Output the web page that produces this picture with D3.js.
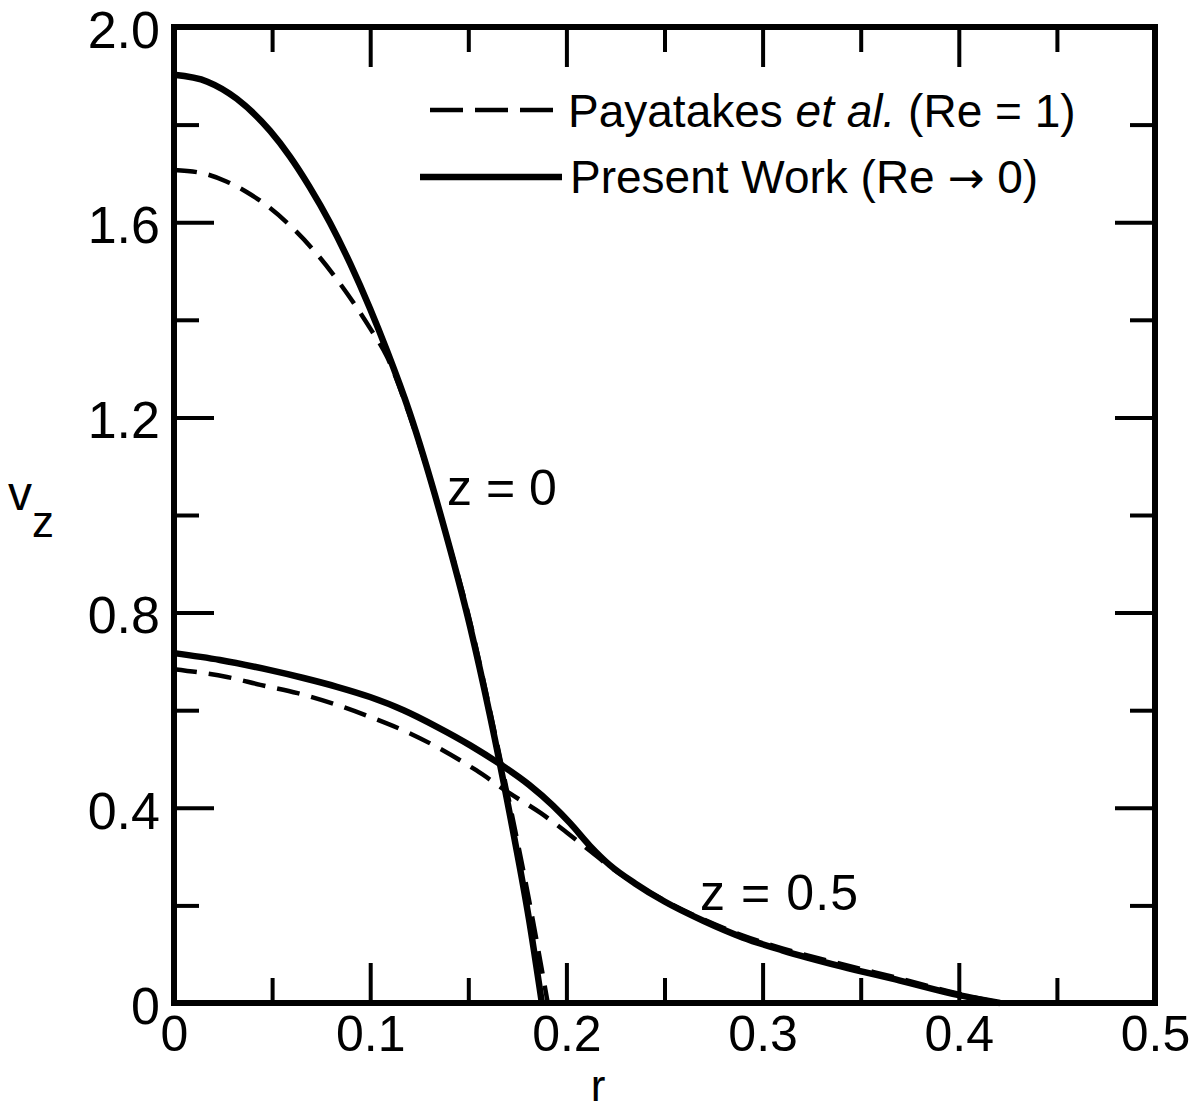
<!DOCTYPE html>
<html>
<head>
<meta charset="utf-8">
<script src="https://cdn.jsdelivr.net/npm/d3@7"></script>
<style>
  html, body { margin: 0; padding: 0; background: #fff; }
  svg { display: block; }
  text { font-family: "Liberation Sans", Arial, sans-serif; fill: #000; }
</style>
</head>
<body>
<svg id="chart" width="1199" height="1111"></svg>
<script>
// ---------- data ----------
const xMajorTicks = [0, 0.1, 0.2, 0.3, 0.4, 0.5];
const xMinorTicks = [0.05, 0.15, 0.25, 0.35, 0.45];
const yMajorTicks = [0, 0.4, 0.8, 1.2, 1.6, 2.0];
const yMinorTicks = [0.2, 0.6, 1.0, 1.4, 1.8];
const xTickLabels = ["0", "0.1", "0.2", "0.3", "0.4", "0.5"];
const yTickLabels = ["0", "0.4", "0.8", "1.2", "1.6", "2.0"];

// Present Work (Re -> 0), z = 0
const presentZ0_r = [0, 0.017, 0.032, 0.049, 0.059, 0.069, 0.0795, 0.0897, 0.0999, 0.1086, 0.120, 0.1366, 0.151, 0.161, 0.171, 0.181, 0.1875];
const presentZ0_v = [1.902, 1.888, 1.853, 1.787, 1.735, 1.673, 1.599, 1.516, 1.423, 1.336, 1.211, 0.99, 0.77, 0.59, 0.39, 0.17, 0];

// Payatakes et al. (Re = 1), z = 0
const payZ0_r = [0, 0.015, 0.027, 0.037, 0.047, 0.061, 0.073, 0.083, 0.093, 0.0999, 0.1086, 0.120, 0.1366, 0.151, 0.161, 0.171, 0.181, 0.1905];
const payZ0_v = [1.707, 1.700, 1.683, 1.662, 1.635, 1.586, 1.534, 1.483, 1.426, 1.383, 1.324, 1.205, 0.99, 0.78, 0.60, 0.41, 0.21, 0];

// Present Work (Re -> 0), z = 0.5
const presentZ05_r = [0, 0.0234, 0.049, 0.066, 0.083, 0.0999, 0.117, 0.134, 0.151, 0.166, 0.181, 0.193, 0.202, 0.212, 0.222, 0.235, 0.25, 0.27, 0.29, 0.31, 0.34, 0.37, 0.40, 0.421];
const presentZ05_v = [0.717, 0.703, 0.682, 0.666, 0.648, 0.627, 0.600, 0.566, 0.528, 0.490, 0.447, 0.405, 0.368, 0.322, 0.283, 0.245, 0.208, 0.168, 0.134, 0.108, 0.075, 0.046, 0.016, 0];

// Payatakes et al. (Re = 1), z = 0.5
const payZ05_r = [0, 0.027, 0.044, 0.063, 0.083, 0.1014, 0.120, 0.137, 0.154, 0.171, 0.187, 0.200, 0.212, 0.222, 0.235, 0.25, 0.27, 0.29, 0.31, 0.34, 0.37, 0.40, 0.421];
const payZ05_v = [0.684, 0.668, 0.652, 0.635, 0.611, 0.584, 0.553, 0.518, 0.477, 0.430, 0.389, 0.350, 0.312, 0.280, 0.245, 0.210, 0.171, 0.138, 0.112, 0.080, 0.050, 0.019, 0];

const legendLabels = ["Payatakes ", "et al.", " (Re = 1)", "Present Work (Re ", "\u2192", " 0)"];
const curveLabels = ["z = 0", "z = 0.5"];

// ---------- layout ----------
const svg = d3.select("#chart");
const L = 174, R = 1155, T = 27, B = 1003;
const x = d3.scaleLinear().domain([0, 0.5]).range([L, R]);
const y = d3.scaleLinear().domain([0, 2.0]).range([B, T]);

const majorLen = 40, minorLen = 25;

function styleAxis(size) {
  return g => {
    g.select(".domain").remove();
    g.selectAll(".tick line").attr("stroke", "#000").attr("stroke-width", 4);
    g.selectAll(".tick text").attr("font-size", size).attr("font-family", "Liberation Sans, Arial, sans-serif").attr("fill", "#000");
  };
}

// bottom
svg.append("g").attr("transform", `translate(0,${B})`)
  .call(d3.axisBottom(x).tickValues(xMajorTicks).tickSize(-majorLen).tickPadding(12)
    .tickFormat((d, i) => xTickLabels[i]))
  .call(styleAxis(50));
svg.append("g").attr("transform", `translate(0,${B})`)
  .call(d3.axisBottom(x).tickValues(xMinorTicks).tickSize(-minorLen).tickFormat(""))
  .call(styleAxis(50));
// top
svg.append("g").attr("transform", `translate(0,${T})`)
  .call(d3.axisTop(x).tickValues(xMajorTicks.slice(1, -1)).tickSize(-majorLen).tickFormat(""))
  .call(styleAxis(50));
svg.append("g").attr("transform", `translate(0,${T})`)
  .call(d3.axisTop(x).tickValues(xMinorTicks).tickSize(-minorLen).tickFormat(""))
  .call(styleAxis(50));
// left
svg.append("g").attr("transform", `translate(${L},0)`)
  .call(d3.axisLeft(y).tickValues(yMajorTicks).tickSize(-majorLen).tickPadding(14)
    .tickFormat((d, i) => yTickLabels[i]))
  .call(styleAxis(52))
  .call(g => g.selectAll(".tick text").attr("dy", "0.39em"));
svg.append("g").attr("transform", `translate(${L},0)`)
  .call(d3.axisLeft(y).tickValues(yMinorTicks).tickSize(-minorLen).tickFormat(""))
  .call(styleAxis(52));
// right
svg.append("g").attr("transform", `translate(${R},0)`)
  .call(d3.axisRight(y).tickValues(yMajorTicks.slice(1, -1)).tickSize(-majorLen).tickFormat(""))
  .call(styleAxis(52));
svg.append("g").attr("transform", `translate(${R},0)`)
  .call(d3.axisRight(y).tickValues(yMinorTicks).tickSize(-minorLen).tickFormat(""))
  .call(styleAxis(52));

// frame
svg.append("rect").attr("x", L).attr("y", T).attr("width", R - L).attr("height", B - T)
  .attr("fill", "none").attr("stroke", "#000").attr("stroke-width", 6);

// ---------- curves ----------
const line = d3.line().x(d => x(d[0])).y(d => y(d[1])).curve(d3.curveMonotoneX);
const zip = (a, b) => a.map((v, i) => [v, b[i]]);

const series = [
  { data: zip(payZ0_r, payZ0_v), dashed: true },
  { data: zip(payZ05_r, payZ05_v), dashed: true },
  { data: zip(presentZ0_r, presentZ0_v), dashed: false },
  { data: zip(presentZ05_r, presentZ05_v), dashed: false }
];
svg.append("g").selectAll("path").data(series).join("path")
  .attr("d", d => line(d.data))
  .attr("fill", "none").attr("stroke", "#000")
  .attr("stroke-width", d => d.dashed ? 4.5 : 6.5)
  .attr("stroke-dasharray", d => d.dashed ? "23,12" : null)
  .attr("stroke-linejoin", "round");

// ---------- legend ----------
const lg = svg.append("g");
lg.append("line").attr("x1", 430).attr("x2", 560).attr("y1", 110).attr("y2", 110)
  .attr("stroke", "#000").attr("stroke-width", 4.5).attr("stroke-dasharray", "33,12");
lg.append("line").attr("x1", 420).attr("x2", 562).attr("y1", 177).attr("y2", 177)
  .attr("stroke", "#000").attr("stroke-width", 6.5);
const t1 = lg.append("text").attr("x", 568).attr("y", 127).attr("font-size", 46);
t1.append("tspan").text(legendLabels[0]);
t1.append("tspan").attr("font-style", "italic").text(legendLabels[1]);
t1.append("tspan").text(legendLabels[2]);
const t2 = lg.append("text").attr("x", 570).attr("y", 193).attr("font-size", 46);
t2.append("tspan").text(legendLabels[3]);
t2.append("tspan").attr("font-family", "DejaVu Sans").attr("font-size", 44).text(legendLabels[4]);
t2.append("tspan").text(legendLabels[5]);

// ---------- curve labels ----------
svg.append("text").attr("x", 447).attr("y", 505).attr("font-size", 50).text(curveLabels[0]);
svg.append("text").attr("x", 700).attr("y", 910).attr("font-size", 50)
  .attr("textLength", 158).attr("lengthAdjust", "spacing").text(curveLabels[1]);

// ---------- axis titles ----------
const vt = svg.append("text").attr("x", 8).attr("y", 510).attr("font-size", 48);
vt.append("tspan").text("v");
vt.append("tspan").attr("dy", 27).attr("font-size", 44).text("z");
svg.append("text").attr("x", 598).attr("y", 1101).attr("text-anchor", "middle").attr("font-size", 44).text("r");
</script>
</body>
</html>
